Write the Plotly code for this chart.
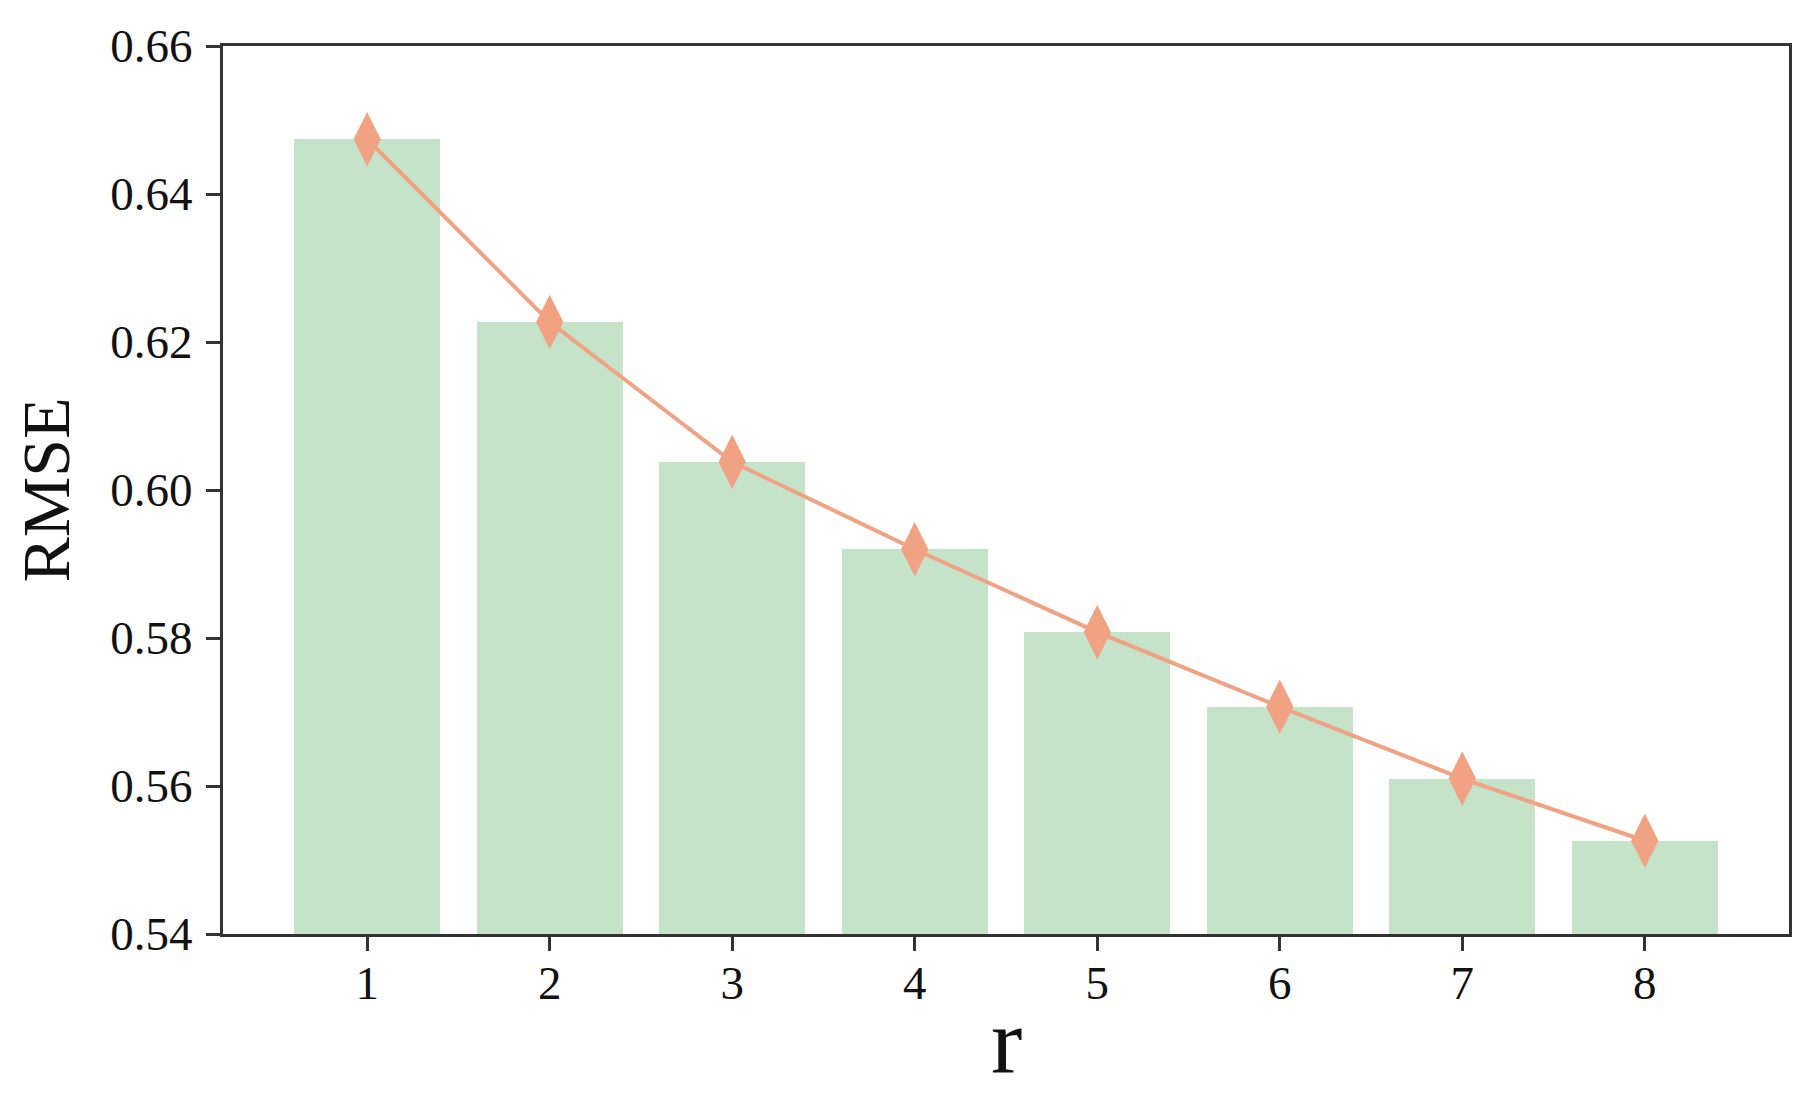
import plotly.graph_objects as go

# values
r_values = [1, 2, 3, 4, 5, 6, 7, 8]
rmse_bar = [0.6474, 0.6227, 0.6038, 0.5920, 0.5808, 0.5707, 0.5610, 0.5526]
rmse_line = [0.6474, 0.6227, 0.6038, 0.5920, 0.5808, 0.5707, 0.5610, 0.5526]
y_ticks = [0.54, 0.56, 0.58, 0.60, 0.62, 0.64, 0.66]

FONT = "Liberation Serif"
AXIS_COLOR = "#333333"

fig = go.Figure()

fig.add_trace(go.Bar(
    x=r_values, y=rmse_bar, width=0.8,
    marker=dict(color="#c5e3c9", line=dict(width=0)),
    showlegend=False,
))

fig.add_trace(go.Scatter(
    x=r_values, y=rmse_line, mode="lines+markers",
    line=dict(color="#f0a283", width=4),
    marker=dict(symbol="diamond-tall", size=39, color="#f0a283", line=dict(width=0)),
    showlegend=False,
))

fig.update_layout(
    width=1805, height=1096,
    margin=dict(l=215, r=24, t=36, b=170),
    plot_bgcolor="white", paper_bgcolor="white",
    font=dict(family=FONT, color="#111111"),
    bargap=0,
)

fig.update_xaxes(
    range=[0.21, 8.79], tickmode="array", tickvals=r_values,
    ticktext=[str(v) for v in r_values],
    showgrid=False, zeroline=False,
    showline=True, linecolor=AXIS_COLOR, linewidth=3, mirror=True,
    ticks="outside", ticklen=14, tickwidth=2.5, tickcolor=AXIS_COLOR,
    tickfont=dict(family=FONT, size=47), ticklabelstandoff=-8,
)

# x-axis title placed by hand so it sits as close to the ticks as in the original
fig.add_annotation(
    text="r", xref="paper", yref="paper", x=0.5, y=-0.119,
    xanchor="center", yanchor="middle", showarrow=False,
    font=dict(family=FONT, size=94, color="#111111"),
)

fig.update_yaxes(
    range=[0.54, 0.66], tickmode="array", tickvals=y_ticks,
    ticktext=[f"{v:.2f}" for v in y_ticks],
    showgrid=False, zeroline=False,
    showline=True, linecolor=AXIS_COLOR, linewidth=3, mirror=True,
    ticks="outside", ticklen=14, tickwidth=2.5, tickcolor=AXIS_COLOR,
    tickfont=dict(family=FONT, size=47), ticklabelstandoff=4,
    title=dict(text="RMSE", font=dict(family=FONT, size=68), standoff=22),
)

fig.write_html("out.html")
